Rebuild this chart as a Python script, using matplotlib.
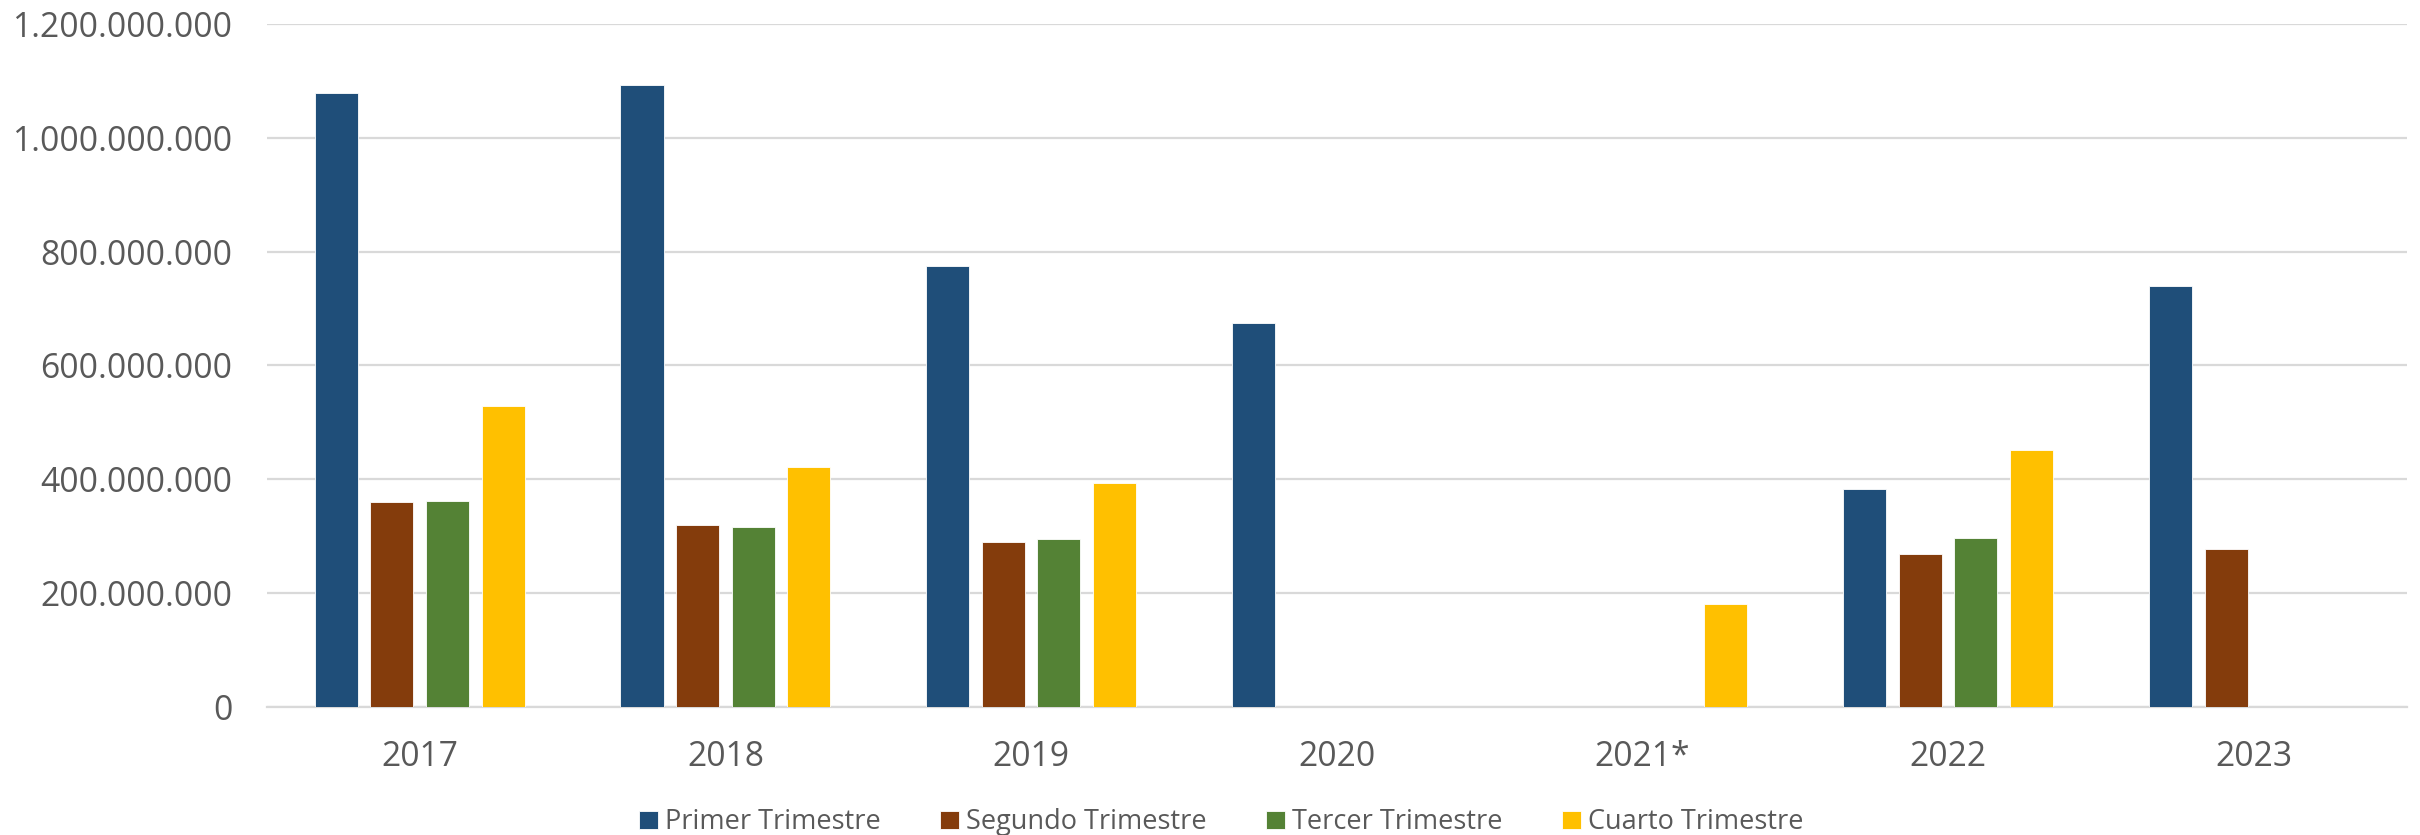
import numpy as np
import matplotlib
matplotlib.use("Agg")
import matplotlib.pyplot as plt
from matplotlib.ticker import FuncFormatter, MultipleLocator

years = ["2017", "2018", "2019", "2020", "2021*", "2022", "2023"]
series_names = ["Primer Trimestre", "Segundo Trimestre", "Tercer Trimestre", "Cuarto Trimestre"]
primer = [1079e6, 1092e6, 775e6, 674e6, np.nan, 383e6, 740e6]
segundo = [360e6, 320e6, 289e6, np.nan, np.nan, 268e6, 278e6]
tercer = [362e6, 316e6, 294e6, np.nan, np.nan, 296e6, np.nan]
cuarto = [528e6, 421e6, 393e6, np.nan, 180e6, 451e6, np.nan]
colors = ["#1F4E79", "#843C0C", "#548235", "#FFC000"]

plt.rcParams['font.family'] = ['Open Sans', 'DejaVu Sans']

fig = plt.figure(figsize=(24.2, 8.35), dpi=100)
ax = fig.add_axes([0.1103, 0.1537, 0.9945 - 0.1103, 0.9713 - 0.1537])

x = np.arange(len(years))
width = 0.1407
step = 0.182
all_series = [primer, segundo, tercer, cuarto]
for i, (vals, name, c) in enumerate(zip(all_series, series_names, colors)):
    ax.bar(x + (i - 1.5) * step, vals, width, color=c, label=name,
           edgecolor='white', linewidth=0.6, zorder=3)

ax.set_xlim(-0.5, len(years) - 0.5)
ax.set_ylim(0, 1.2e9)
ax.yaxis.set_major_locator(MultipleLocator(200e6))
ax.yaxis.set_major_formatter(FuncFormatter(lambda v, p: f"{int(round(v)):,}".replace(",", ".")))
ax.set_xticks(x)
ax.set_xticklabels(years)

ax.grid(axis='y', color='#D9D9D9', linewidth=1.6, zorder=0)
for s in ['top', 'right', 'left']:
    ax.spines[s].set_visible(False)
ax.spines['bottom'].set_color('#D9D9D9')
ax.spines['bottom'].set_linewidth(1.6)

ax.tick_params(axis='both', length=0, labelsize=24.2, labelcolor='#595959')
ax.tick_params(axis='y', pad=25)
ax.tick_params(axis='x', pad=24)

leg = fig.legend(loc='center', bbox_to_anchor=(0.5047, 0.015), ncol=4, frameon=False,
                 fontsize=19.5, handlelength=0.7, handleheight=0.7, handletextpad=0.25,
                 columnspacing=2.2, labelcolor='#595959')

fig.savefig("out.png", dpi=100)
